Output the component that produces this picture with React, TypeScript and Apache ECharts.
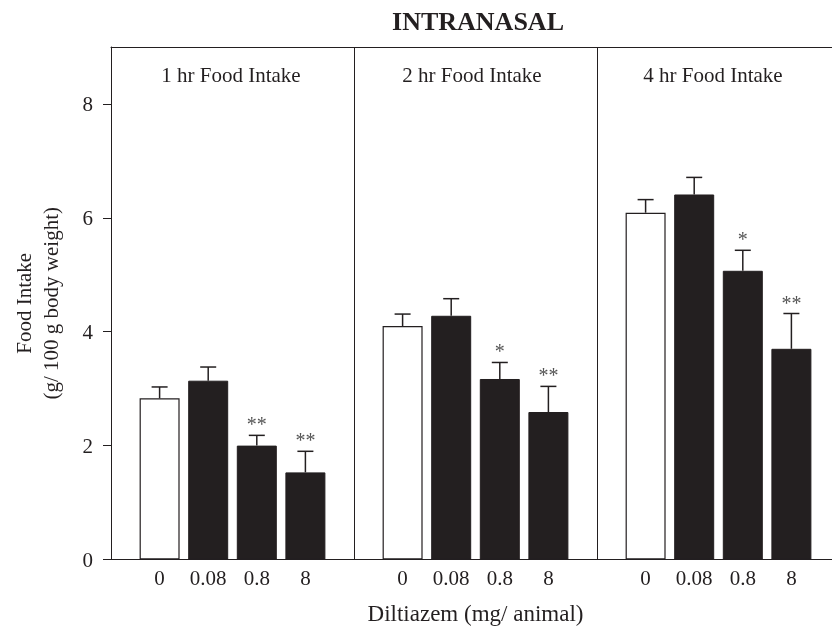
import React, { useEffect, useRef } from "react";
import * as echarts from "echarts";

const doses = ["0", "0.08", "0.8", "8"];
const panelTitles = ["1 hr Food Intake", "2 hr Food Intake", "4 hr Food Intake"];
const oneHr = [2.83, 3.14, 2.0, 1.53];
const oneHrErr = [0.2, 0.24, 0.18, 0.37];
const twoHr = [4.1, 4.28, 3.17, 2.59];
const twoHrErr = [0.21, 0.3, 0.29, 0.45];
const fourHr = [6.09, 6.41, 5.07, 3.7];
const fourHrErr = [0.23, 0.3, 0.36, 0.62];
const oneHrStars = ["", "", "**", "**"];
const twoHrStars = ["", "", "*", "**"];
const fourHrStars = ["", "", "*", "**"];
const yTicks = [0, 2, 4, 6, 8];

const FONT = '"Liberation Serif", "Times New Roman", serif';
const INK = "#231f20";

export default function App() {
  const ref = useRef<HTMLDivElement>(null);
  useEffect(() => {
    if (!ref.current) return;
    const chart = echarts.init(ref.current, undefined, { renderer: "svg" });

    const panels = [
      { v: oneHr, e: oneHrErr, s: oneHrStars },
      { v: twoHr, e: twoHrErr, s: twoHrStars },
      { v: fourHr, e: fourHrErr, s: fourHrStars },
    ];
    const categories: string[] = [""];
    const barData: any[] = [null];
    const errData: any[] = [];
    panels.forEach((p) => {
      p.v.forEach((val, i) => {
        const idx = categories.length;
        categories.push(doses[i]);
        barData.push({
          value: val,
          itemStyle:
            i === 0
              ? { color: "#ffffff", borderColor: INK, borderWidth: 1.2 }
              : { color: INK, borderColor: INK, borderWidth: 1 },
        });
        errData.push([idx, val, p.e[i], p.s[i]]);
      });
      categories.push("");
      barData.push(null);
    });

    const option: any = {
      animation: false,
      textStyle: { fontFamily: FONT },
      grid: {
        left: 111,
        top: 47,
        width: 729,
        bottom: 68.5,
        containLabel: false,
        outerBoundsMode: "none",
      },
      xAxis: [
        {
          type: "category",
          data: categories,
          boundaryGap: false,
          axisLine: { show: true, lineStyle: { color: INK, width: 1 } },
          axisTick: { show: false },
          axisLabel: {
            interval: 0,
            fontSize: 21,
            color: INK,
            fontFamily: FONT,
            margin: 8,
          },
          splitLine: {
            show: true,
            interval: (index: number) => index === 5 || index === 10,
            lineStyle: { color: INK, width: 1 },
          },
          name: "Diltiazem (mg/ animal)",
          nameLocation: "middle",
          nameGap: 42,
          nameMoveOverlap: false,
          nameTextStyle: { fontSize: 23, color: INK, fontFamily: FONT },
        },
        {
          type: "category",
          data: categories,
          boundaryGap: false,
          position: "top",
          axisLine: { show: true, lineStyle: { color: INK, width: 1 } },
          axisTick: { show: false },
          axisLabel: { show: false },
          splitLine: { show: false },
        },
      ],
      yAxis: {
        type: "value",
        min: 0,
        max: 9,
        interval: 2,
        axisLine: { show: true, lineStyle: { color: INK, width: 1 } },
        axisTick: {
          show: true,
          inside: false,
          length: 8,
          customValues: yTicks,
          lineStyle: { color: INK },
        },
        axisLabel: {
          fontSize: 21,
          color: INK,
          fontFamily: FONT,
          margin: 18,
          customValues: yTicks,
        },
        splitLine: { show: false },
        name: "Food Intake\n(g/ 100 g body weight)",
        nameLocation: "middle",
        nameGap: 47,
        nameRotate: 90,
        nameMoveOverlap: false,
        nameTextStyle: { fontSize: 21, color: INK, fontFamily: FONT, lineHeight: 27 },
      },
      title: {
        text: "INTRANASAL",
        left: 473,
        top: 3,
        textAlign: "center",
        textStyle: { fontSize: 26, fontWeight: "bold", color: INK, fontFamily: FONT },
      },
      graphic: panelTitles.map((t, i) => ({
        type: "text",
        x: 231 + i * 241,
        y: 75,
        style: {
          text: t,
          fontSize: 21,
          fontFamily: FONT,
          fill: INK,
          align: "center",
          verticalAlign: "middle",
          textAlign: "center",
          textVerticalAlign: "middle",
        },
      })),
      series: [
        {
          type: "bar",
          data: barData,
          barWidth: 40,
          xAxisIndex: 0,
        },
        {
          type: "custom",
          xAxisIndex: 0,
          z: 5,
          data: errData,
          renderItem: (params: any, api: any) => {
            const x = api.value(0);
            const y = api.value(1);
            const e = api.value(2);
            const star = errData[params.dataIndex][3];
            const p0 = api.coord([x, y]);
            const p1 = api.coord([x, y + e]);
            const children: any[] = [
              {
                type: "line",
                shape: { x1: p0[0], y1: p0[1], x2: p1[0], y2: p1[1] },
                style: { stroke: INK, lineWidth: 1.5 },
              },
              {
                type: "line",
                shape: { x1: p1[0] - 8, y1: p1[1], x2: p1[0] + 8, y2: p1[1] },
                style: { stroke: INK, lineWidth: 1.5 },
              },
            ];
            if (star) {
              children.push({
                type: "text",
                x: p1[0],
                y: p1[1] - 11,
                style: {
                  text: star,
                  fontSize: 20,
                  fontFamily: FONT,
                  fill: "#555",
                  align: "center",
                  verticalAlign: "middle",
                  textAlign: "center",
                  textVerticalAlign: "middle",
                },
              });
            }
            return { type: "group", children };
          },
        },
      ],
    };
    chart.setOption(option);
    return () => chart.dispose();
  }, []);
  return (
    <div
      ref={ref}
      style={{ position: "fixed", left: 0, top: 0, width: 832, height: 628 }}
    />
  );
}
